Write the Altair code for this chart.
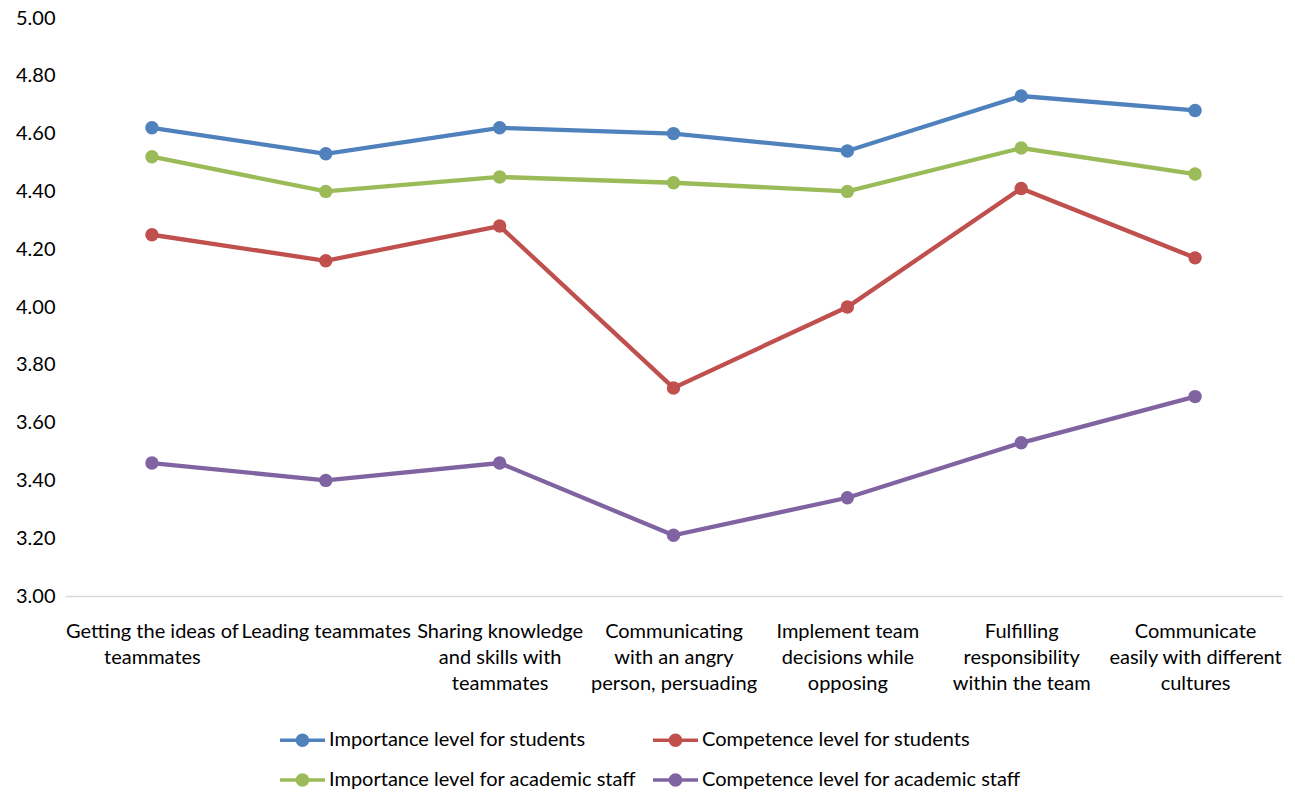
import altair as alt
import pandas as pd

categories = [
    "Getting the ideas of|teammates",
    "Leading teammates",
    "Sharing knowledge|and skills with|teammates",
    "Communicating|with an angry|person, persuading",
    "Implement team|decisions while|opposing",
    "Fulfilling|responsibility|within the team",
    "Communicate|easily with different|cultures",
]
series_names = [
    "Importance level for students",
    "Competence level for students",
    "Importance level for academic staff",
    "Competence level for academic staff",
]
importance_students = [4.62, 4.53, 4.62, 4.60, 4.54, 4.73, 4.68]
competence_students = [4.25, 4.16, 4.28, 3.72, 4.00, 4.41, 4.17]
importance_staff = [4.52, 4.40, 4.45, 4.43, 4.40, 4.55, 4.46]
competence_staff = [3.46, 3.40, 3.46, 3.21, 3.34, 3.53, 3.69]
colors = ["#4F81BD", "#C0504D", "#9BBB59", "#8064A2"]

rows = []
for name, vals in zip(series_names, [importance_students, competence_students, importance_staff, competence_staff]):
    for c, v in zip(categories, vals):
        rows.append({"cat": c, "series": name, "value": v})
df = pd.DataFrame(rows)

# legend fills column by column: order so that rows read as in the reference
legend_order = [series_names[0], series_names[2], series_names[1], series_names[3]]
legend_colors = [colors[0], colors[2], colors[1], colors[3]]

FONT = "Lato"
FS = 20
legend_path = ("M-1,-0.075 L1,-0.075 L1,0.075 L-1,0.075 Z "
               "M0.3,0 A0.3,0.3 0 1 1 -0.3,0 A0.3,0.3 0 1 1 0.3,0 Z")

x_enc = alt.X("cat:N", sort=categories, scale=alt.Scale(type="point", padding=0.5),
              axis=alt.Axis(title=None, labelAngle=0, ticks=False, domainColor="#D9D9D9",
                            domainWidth=1.5, labelExpr="split(datum.label, '|')",
                            labelFont=FONT, labelFontSize=FS, labelColor="#000000",
                            labelPadding=35, labelLineHeight=26, labelBaseline="middle",
                            labelLimit=300))
y_enc = alt.Y("value:Q", scale=alt.Scale(domain=[3, 5], nice=False, zero=False),
              axis=alt.Axis(title=None, values=[3.0, 3.2, 3.4, 3.6, 3.8, 4.0, 4.2, 4.4, 4.6, 4.8, 5.0],
                            format=".2f", grid=False, domain=False, ticks=False,
                            labelFont=FONT, labelFontSize=FS, labelColor="#000000",
                            labelPadding=10))
color_enc = alt.Color("series:N",
                      scale=alt.Scale(domain=legend_order, range=legend_colors),
                      legend=alt.Legend(title=None, orient="none", legendX=215, legendY=699.5,
                                        columns=2, symbolType=legend_path, symbolSize=2025,
                                        symbolStrokeWidth=0, labelFont=FONT, labelFontSize=FS,
                                        labelColor="#000000", rowPadding=7, columnPadding=16,
                                        labelOffset=4, labelLimit=400))

base = alt.Chart(df)
lines = base.mark_line(strokeWidth=4.3).encode(x=x_enc, y=y_enc, color=color_enc, detail="series:N")
points = base.mark_point(filled=True, size=180, opacity=1).encode(x=x_enc, y=y_enc, color=color_enc)

chart = alt.layer(lines, points).properties(
    width=1217, height=578,
    autosize=alt.AutoSizeParams(type="none"),
    padding={"left": 65, "top": 18, "right": 13, "bottom": 196},
).configure(background="white").configure_view(stroke=None)

chart.save("out.html", embed_options={"renderer": "svg", "actions": False})
